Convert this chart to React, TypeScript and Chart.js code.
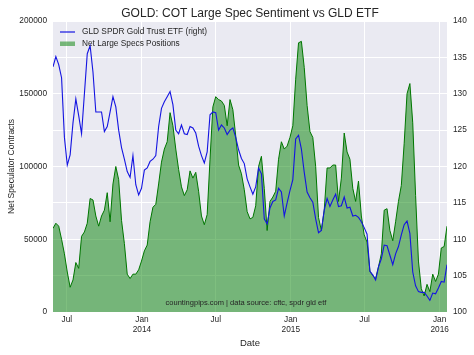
import React, { useEffect, useRef } from 'react';
import { Chart, registerables } from 'chart.js';

Chart.register(...registerables);

// ---- data (weekly, first week = START_DATE) ----
const START_DATE = '2013-05-28';
const TICK_DATES = ['2013-07-01', '2014-01-01', '2014-07-01', '2015-01-01', '2015-07-01', '2016-01-01'];
const TICK_LABELS: string[][] = [['Jul'], ['Jan', '2014'], ['Jul'], ['Jan', '2015'], ['Jul'], ['Jan', '2016']];

const NET_SPECS = [
  57500, 61000, 59000, 50000, 40000, 27500, 17000, 22000, 34000, 30000,
  52000, 55000, 61000, 78000, 77000, 66000, 59000, 66000, 70000, 82000,
  62000, 88000, 100000, 91000, 63000, 47000, 26000, 23000, 26000, 26000,
  29000, 35000, 42000, 46000, 62000, 72000, 74000, 88000, 103000, 112000,
  117000, 137000, 128000, 112000, 98000, 86000, 80000, 84000, 97000, 92000,
  96000, 83000, 66000, 60000, 67000, 105000, 141000, 148000, 146000, 145000,
  142000, 128000, 146000, 139000, 121000, 101000, 95000, 84000, 69000, 64000,
  65000, 73000, 100000, 107000, 85000, 56000, 76000, 79000, 83000, 105000,
  117000, 112000, 114000, 120000, 128000, 160000, 185000, 186000, 168000, 142000,
  124000, 120000, 100000, 65000, 56000, 70000, 99000, 99000, 101000, 101000,
  76000, 92000, 123000, 110000, 105000, 85000, 76000, 90000, 66000, 53000,
  48000, 28000, 25000, 23000, 31000, 40000, 70000, 71000, 56000, 49000,
  62000, 76000, 87000, 116000, 150000, 157000, 130000, 80000, 35000, 16000,
  11000, 19000, 14000, 26000, 21000, 26000, 44000, 45000, 59000,
];

const GLD_PRICE = [
  133.7, 135.1, 134.0, 132.2, 124.0, 120.2, 121.6, 126.0, 129.3, 127.0,
  124.5, 130.0, 135.5, 136.6, 133.0, 127.5, 127.5, 127.5, 124.8, 125.5,
  127.5, 129.6, 128.2, 125.0, 122.6, 121.0, 119.3, 118.5, 121.5, 117.5,
  116.1, 117.0, 119.5, 119.8, 120.7, 121.0, 121.5, 125.5, 128.0, 128.9,
  129.6, 130.3, 128.5, 125.0, 124.5, 125.7, 124.5, 124.4, 125.5, 125.3,
  124.6, 122.8, 121.5, 120.5, 122.0, 127.1, 127.5, 127.4, 125.0, 125.7,
  125.3, 124.4, 125.0, 125.3, 124.0, 122.3, 121.1, 120.4, 118.3, 117.2,
  116.2, 117.2, 119.8, 119.0, 112.8, 112.1, 114.3, 115.2, 115.4, 117.0,
  116.5, 113.2, 115.0, 116.7, 118.2, 123.8, 124.3, 122.4, 119.2, 116.5,
  115.7, 115.1, 112.8, 110.9, 111.2, 114.0, 115.6, 114.5, 115.4, 116.2,
  114.5, 114.6, 115.8, 114.3, 114.4, 113.2, 113.3, 113.0, 112.4, 111.6,
  110.7, 105.6, 105.1, 104.4, 106.2, 107.3, 109.2, 109.1, 107.8, 106.5,
  108.0, 109.0, 110.6, 112.0, 112.5, 110.8, 105.5, 103.6, 102.8, 102.7,
  102.7, 102.2, 101.6, 102.6, 102.5, 103.3, 104.2, 104.1, 106.5,
];

const LEFT_MIN = 0;
const LEFT_MAX = 200000;
const LEFT_STEP = 50000;
const RIGHT_MIN = 100;
const RIGHT_MAX = 140;
const RIGHT_STEP = 5;

const TITLE = 'GOLD: COT Large Spec Sentiment vs GLD ETF';
const GLD_LABEL = 'GLD SPDR Gold Trust ETF (right)';
const SPECS_LABEL = 'Net Large Specs Positions';
const Y_TITLE = 'Net Speculator Contracts';
const X_TITLE = 'Date';
const SOURCE = 'countingpips.com | data source: cftc, spdr gld etf';

// ---- styles ----
const FONT = '"Liberation Sans", Arial, sans-serif';
const BG = '#EAEAF2';
const TEXT = '#262626';
const BLUE = 'rgb(20,20,225)';
const GREEN_LINE = 'rgb(0,118,0)';
const GREEN_FILL = 'rgba(0,128,0,0.5)';

const DAY = 86400000;
const dayOffset = (d: string) => (Date.parse(d) - Date.parse(START_DATE)) / DAY;
const TICK_DAYS = TICK_DATES.map(dayOffset);

const decorPlugin = {
  id: 'decor',
  beforeDraw(chart: any) {
    const { ctx, chartArea: a } = chart;
    ctx.save();
    ctx.fillStyle = BG;
    ctx.fillRect(a.left, a.top, a.right - a.left, a.bottom - a.top);
    ctx.restore();
  },
  afterDatasetsDraw(chart: any) {
    const { ctx, chartArea: a } = chart;
    ctx.save();
    ctx.fillStyle = TEXT;
    ctx.textBaseline = 'middle';
    // title
    ctx.textAlign = 'center';
    ctx.font = `12px ${FONT}`;
    ctx.fillText(TITLE, (a.left + a.right) / 2, 14);
    // source
    ctx.font = `7.5px ${FONT}`;
    ctx.fillText(SOURCE, (a.left + a.right) / 2 - 4, a.bottom - 9);
    // x title
    ctx.font = `9.5px ${FONT}`;
    ctx.fillText(X_TITLE, (a.left + a.right) / 2, 343);
    // y title
    ctx.save();
    ctx.translate(12, (a.top + a.bottom) / 2);
    ctx.rotate(-Math.PI / 2);
    ctx.font = `8.5px ${FONT}`;
    ctx.fillText(Y_TITLE, 0, 0);
    ctx.restore();
    // legend
    const lx = a.left + 7;
    ctx.strokeStyle = BLUE;
    ctx.lineWidth = 1.2;
    ctx.beginPath();
    ctx.moveTo(lx, 32);
    ctx.lineTo(lx + 15, 32);
    ctx.stroke();
    ctx.fillStyle = GREEN_FILL;
    ctx.fillRect(lx, 41.5, 15, 4.5);
    ctx.fillStyle = TEXT;
    ctx.textAlign = 'left';
    ctx.font = `8.3px ${FONT}`;
    ctx.fillText(GLD_LABEL, lx + 22, 32);
    ctx.fillText(SPECS_LABEL, lx + 22, 43.5);
    ctx.restore();
  },
};

export default function App() {
  const ref = useRef<HTMLCanvasElement | null>(null);

  useEffect(() => {
    if (!ref.current) return;
    const xs = NET_SPECS.map((_, i) => i * 7);
    const chart = new Chart(ref.current, {
      type: 'line',
      data: {
        datasets: [
          {
            label: GLD_LABEL,
            data: GLD_PRICE.map((v, i) => ({ x: xs[i], y: v })),
            yAxisID: 'yR',
            borderColor: BLUE,
            borderWidth: 1.1,
            pointRadius: 0,
            fill: false,
            tension: 0,
          },
          {
            label: SPECS_LABEL,
            data: NET_SPECS.map((v, i) => ({ x: xs[i], y: v })),
            yAxisID: 'yL',
            borderColor: GREEN_LINE,
            backgroundColor: GREEN_FILL,
            borderWidth: 1,
            pointRadius: 0,
            fill: 'origin',
            tension: 0,
          },
        ],
      },
      options: {
        responsive: false,
        animation: false,
        events: [],
        layout: { padding: { top: 21, left: 0, right: 0, bottom: 0 } },
        plugins: {
          legend: { display: false },
          title: { display: false },
          tooltip: { enabled: false },
        },
        scales: {
          x: {
            type: 'linear',
            min: 0,
            max: (NET_SPECS.length - 1) * 7,
            afterBuildTicks: (scale: any) => {
              scale.ticks = TICK_DAYS.map((v) => ({ value: v }));
            },
            afterFit: (scale: any) => {
              scale.height = 43;
            },
            ticks: {
              autoSkip: false,
              maxRotation: 0,
              padding: 3,
              color: TEXT,
              font: { family: FONT, size: 8.3, lineHeight: 1.2 },
              callback: (_v: any, i: number) => TICK_LABELS[i],
            },
            grid: { color: '#ffffff', lineWidth: 1, drawTicks: false },
            border: { display: false },
          },
          yL: {
            type: 'linear',
            position: 'left',
            min: LEFT_MIN,
            max: LEFT_MAX,
            afterFit: (scale: any) => {
              scale.width = 53;
            },
            ticks: {
              stepSize: LEFT_STEP,
              padding: 6,
              color: TEXT,
              font: { family: FONT, size: 8.3 },
              callback: (v: any) => String(v),
            },
            grid: { color: '#ffffff', lineWidth: 1, drawTicks: false },
            border: { display: false },
          },
          yR: {
            type: 'linear',
            position: 'right',
            min: RIGHT_MIN,
            max: RIGHT_MAX,
            afterFit: (scale: any) => {
              scale.width = 27;
            },
            ticks: {
              stepSize: RIGHT_STEP,
              padding: 6,
              color: TEXT,
              font: { family: FONT, size: 8.3 },
              callback: (v: any) => String(v),
            },
            grid: { color: '#ffffff', lineWidth: 1, drawTicks: false },
            border: { display: false },
          },
        },
      } as any,
      plugins: [decorPlugin],
    });
    return () => chart.destroy();
  }, []);

  return (
    <div style={{ position: 'absolute', left: 0, top: 0, width: 474, height: 355, background: '#ffffff' }}>
      <canvas ref={ref} width={474} height={355} style={{ width: 474, height: 355, display: 'block' }} />
    </div>
  );
}
